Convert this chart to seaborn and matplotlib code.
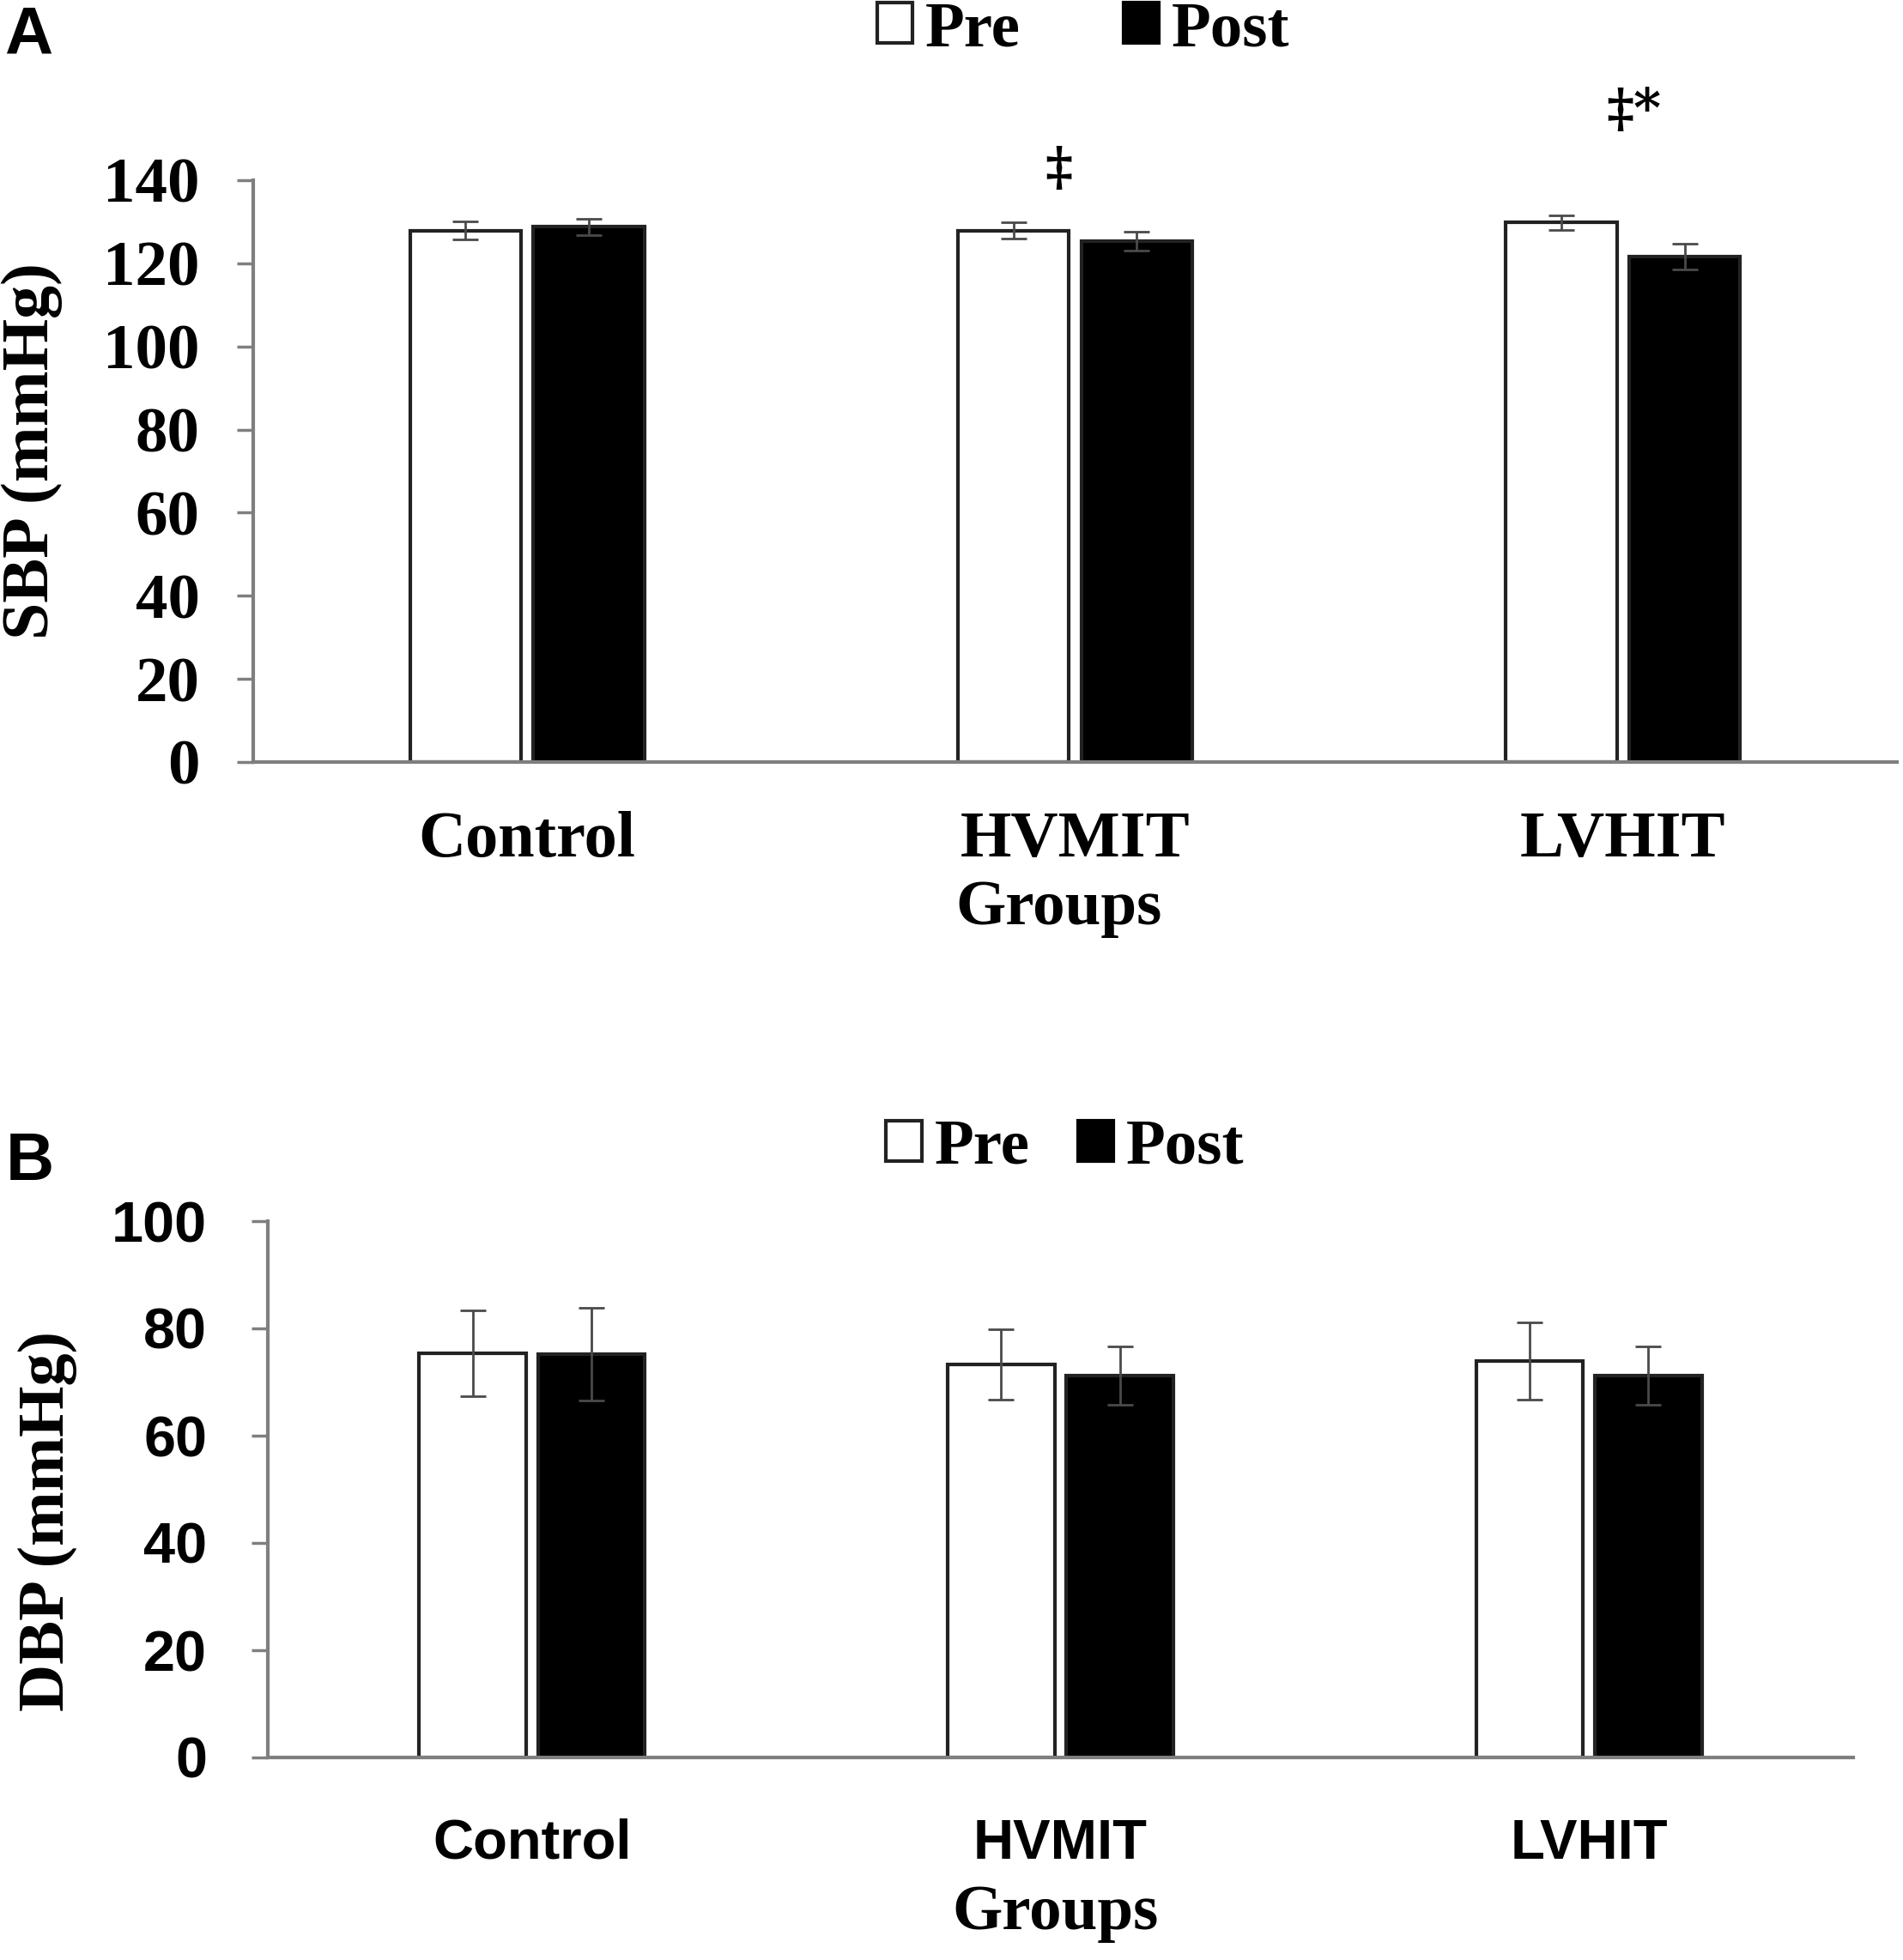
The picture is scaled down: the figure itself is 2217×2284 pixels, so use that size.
import matplotlib
matplotlib.use("Agg")
from matplotlib import pyplot as plt
from matplotlib.patches import Patch
import pandas as pd
import seaborn as sns

groups = ['Control', 'HVMIT', 'LVHIT']
phases = ['Pre', 'Post']

# panel A - systolic blood pressure
sbp_pre = [127.9, 127.9, 129.8]
sbp_post = [128.8, 125.3, 121.6]
sbp_pre_err = [2.2, 1.9, 1.7]
sbp_post_err = [2.0, 2.3, 3.1]

# panel B - diastolic blood pressure
dbp_pre = [75.3, 73.3, 74.0]
dbp_post = [75.2, 71.2, 71.2]
dbp_pre_err = [8.0, 6.5, 7.2]
dbp_post_err = [8.6, 5.5, 5.5]

# significance marks for panel A (x position, text, y)
sbp_marks = [(0.97, '‡', 142.5), (2.02, '‡*', 156.5)]

sns.set_style('white')
serif = ['Liberation Serif', 'DejaVu Serif']
sans = ['Liberation Sans', 'DejaVu Sans']
plt.rcParams['font.family'] = serif
plt.rcParams['font.weight'] = 'bold'
plt.rcParams['text.color'] = 'black'
plt.rcParams['axes.labelcolor'] = 'black'
plt.rcParams['xtick.labelcolor'] = 'black'
plt.rcParams['ytick.labelcolor'] = 'black'

W, H = 2217, 2284
fig = plt.figure(figsize=(W / 100, H / 100), dpi=100)
axA = fig.add_axes([295 / W, 1 - 888 / H, (2210 - 295) / W, 678 / H])
axB = fig.add_axes([312 / W, 1 - 2048 / H, (2159 - 312) / W, 625 / H])

spine_col = '#7f7f7f'
edge_col = '#222222'


def make_df(pre, post):
    rows = []
    for g, v in zip(groups, pre):
        rows.append([g, 'Pre', v])
    for g, v in zip(groups, post):
        rows.append([g, 'Post', v])
    return pd.DataFrame(rows, columns=['Group', 'Phase', 'Value'])


def draw_panel(ax, pre, post, pre_err, post_err):
    df = make_df(pre, post)
    sns.barplot(data=df, x='Group', y='Value', hue='Phase', order=groups,
                hue_order=phases, palette=['white', 'black'],
                edgecolor=edge_col, linewidth=3, width=0.45, gap=0.1,
                errorbar=None, legend=False, ax=ax)
    # error bars at the centres of the drawn bars
    bars = sorted(ax.patches, key=lambda p: p.get_x())
    errs = []
    for a, b in zip(pre_err, post_err):
        errs += [a, b]
    xs = [p.get_x() + p.get_width() / 2 for p in bars]
    ys = [p.get_height() for p in bars]
    ax.errorbar(xs, ys, yerr=errs, fmt='none', ecolor='#4a4a4a',
                elinewidth=2, capsize=11, capthick=2, zorder=5)
    ax.set_xlim(-0.5, 2.5)
    sns.despine(ax=ax)
    for s in ['left', 'bottom']:
        ax.spines[s].set_color(spine_col)
        ax.spines[s].set_linewidth(3)
    ax.tick_params(axis='y', direction='out', length=14, width=2.5,
                   color=spine_col, left=True)
    ax.tick_params(axis='x', length=0)


# ---- panel A
draw_panel(axA, sbp_pre, sbp_post, sbp_pre_err, sbp_post_err)
axA.set_ylim(0, 140)
axA.set_yticks(range(0, 141, 20))
axA.tick_params(axis='y', pad=31, labelsize=54)
axA.tick_params(axis='x', pad=41, labelsize=55)
for t in axA.get_xticklabels() + axA.get_yticklabels():
    t.set_fontweight('bold')
axA.set_ylabel('SBP (mmHg)', fontsize=56, fontweight='bold')
axA.yaxis.set_label_coords(-0.116, 0.535)
axA.set_xlabel('Groups', fontsize=54, fontweight='bold', labelpad=8)
axA.xaxis.label.set_x(0.49)
for x, txt, y in sbp_marks:
    axA.text(x, y, txt, ha='center', va='center', fontsize=44,
             fontweight='bold', family=['DejaVu Serif'], clip_on=False)

# ---- panel B
draw_panel(axB, dbp_pre, dbp_post, dbp_pre_err, dbp_post_err)
axB.set_ylim(0, 100)
axB.set_yticks(range(0, 101, 20))
axB.tick_params(axis='y', pad=37, labelsize=48)
axB.tick_params(axis='x', pad=51, labelsize=47)
for t in axB.get_xticklabels() + axB.get_yticklabels():
    t.set_fontweight('bold')
    t.set_family(sans)
axB.set_ylabel('DBP (mmHg)', fontsize=55, fontweight='bold')
axB.yaxis.set_label_coords(-0.12, 0.44)
axB.set_xlabel('Groups', fontsize=54, fontweight='bold', labelpad=12)
axB.xaxis.label.set_x(0.497)

# legends
handles = [Patch(facecolor='white', edgecolor=edge_col, linewidth=3, label=phases[0]),
           Patch(facecolor='black', edgecolor='black', linewidth=3, label=phases[1])]
axA.legend(handles=handles, loc='center', bbox_to_anchor=(1262 / W, 1 - 35 / H),
           bbox_transform=fig.transFigure, ncol=2, frameon=False,
           prop={'family': serif, 'weight': 'bold', 'size': 54},
           handlelength=0.55, handleheight=0.6, handletextpad=0.2,
           columnspacing=1.6, borderpad=0)
axB.legend(handles=handles, loc='center', bbox_to_anchor=(1241 / W, 1 - 1338 / H),
           bbox_transform=fig.transFigure, ncol=2, frameon=False,
           prop={'family': serif, 'weight': 'bold', 'size': 54},
           handlelength=0.55, handleheight=0.6, handletextpad=0.2,
           columnspacing=0.75, borderpad=0)

# panel letters
fig.text(5 / W, 1 - 5 / H, 'A', ha='left', va='top', fontsize=56,
         fontweight='bold', family=sans)
fig.text(7 / W, 1 - 1318 / H, 'B', ha='left', va='top', fontsize=56,
         fontweight='bold', family=sans)

fig.savefig('out.png', dpi=100, facecolor='white')
